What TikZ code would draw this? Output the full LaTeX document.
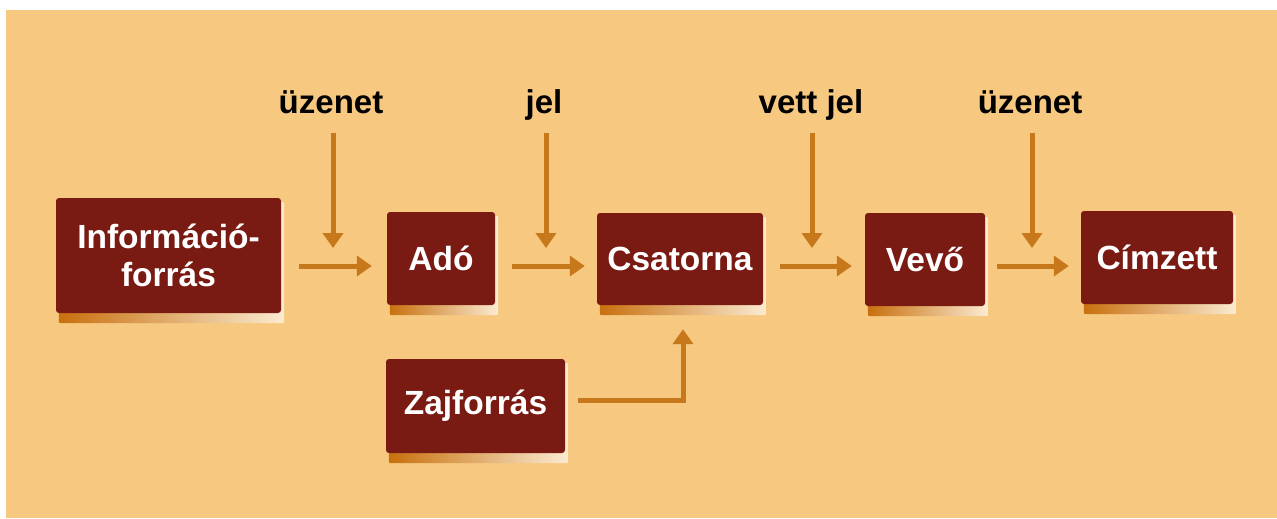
\documentclass[tikz,border=0pt]{standalone}
\usepackage{fontspec}
\setmainfont{Liberation Sans}
\usetikzlibrary{arrows.meta}
\pgfdeclarelayer{bgl}
\pgfdeclarelayer{shl}
\pgfsetlayers{bgl,shl,main}
\definecolor{tanbg}{HTML}{F6C880}
\definecolor{boxred}{HTML}{7A1B13}
\definecolor{arrorange}{HTML}{C6781A}
\definecolor{shador}{HTML}{C8700E}
\definecolor{shadlt}{HTML}{FBEBD2}
\tikzset{
  blk/.style={fill=boxred,text=white,font=\bfseries\fontsize{33.5}{38}\selectfont,rounded corners=3pt,inner sep=0pt,align=center},
  lbl/.style={text=black,font=\bfseries\fontsize{33}{38}\selectfont,inner sep=0pt,anchor=base},
  arr/.style={draw=arrorange,line width=5pt,-{Triangle[length=15pt,width=20pt]}},
  shd/.style={left color=shador,middle color=shador!75!shadlt,right color=shadlt,rounded corners=2pt},
}
\begin{document}
\begin{tikzpicture}[x=1pt,y=-1pt]
\useasboundingbox (0,0) rectangle (1277,519);
\begin{pgfonlayer}{bgl}
  \fill[white] (0,0) rectangle (1277,519);
  \fill[tanbg] (6,10) rectangle (1277,518);
\end{pgfonlayer}

% boxes
\node[blk,minimum width=225pt,minimum height=115pt] (info) at (168.5,255.5) {Információ-\\forrás};
\node[blk,minimum width=108pt,minimum height=93pt] (ado) at (441,258.5) {Adó};
\node[blk,minimum width=166pt,minimum height=92pt] (csat) at (680,259) {Csatorna};
\node[blk,minimum width=120pt,minimum height=93pt] (vevo) at (925,259.5) {Vevő};
\node[blk,minimum width=152pt,minimum height=93pt] (cimz) at (1157,257.5) {Címzett};
\node[blk,minimum width=179pt,minimum height=94pt] (zaj) at (475.5,406) {Zajforrás};

% shadows
\begin{pgfonlayer}{shl}
  \foreach \n in {info,ado,csat,vevo,cimz,zaj}
    \shade[shd] ([xshift=3pt,yshift=-10pt]\n.south west) rectangle ([xshift=3pt,yshift=-4pt]\n.north east);
\end{pgfonlayer}

% labels
\node[lbl] (l1) at (331,113) {üzenet};
\node[lbl] (l2) at (544,113) {jel};
\node[lbl] (l3) at (811,113) {vett jel};
\node[lbl] (l4) at (1030,113) {üzenet};

\coordinate (t1) at (333,248);
\coordinate (t2) at (546,248);
\coordinate (t3) at (812,248);
\coordinate (t4) at (1032,248);
\coordinate (row) at (0,266);
\coordinate (nz) at (683,400);

% vertical arrows
\draw[arr] (l1.base -| t1) ++(0,20) -- (t1);
\draw[arr] (l2.base -| t2) ++(0,20) -- (t2);
\draw[arr] (l3.base -| t3) ++(0,20) -- (t3);
\draw[arr] (l4.base -| t4) ++(0,20) -- (t4);

% horizontal arrows
\draw[arr,shorten <=18pt,shorten >=15pt] (info.east |- row) -- (ado.west |- row);
\draw[arr,shorten <=17pt,shorten >=12pt] (ado.east |- row) -- (csat.west |- row);
\draw[arr,shorten <=17pt,shorten >=13pt] (csat.east |- row) -- (vevo.west |- row);
\draw[arr,shorten <=12pt,shorten >=12pt] (vevo.east |- row) -- (cimz.west |- row);

% noise arrow
\draw[arr,shorten <=13pt,shorten >=24pt] (zaj.east |- nz) -| (nz |- csat.south);
\end{tikzpicture}
\end{document}
